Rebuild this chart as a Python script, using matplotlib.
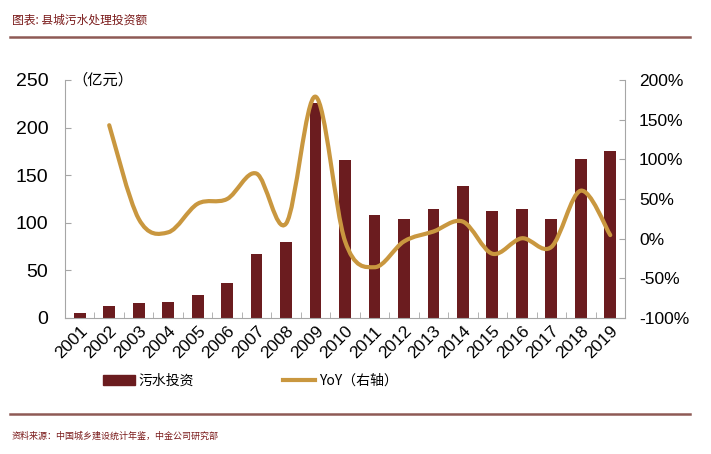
import matplotlib
matplotlib.use("Agg")
import matplotlib.pyplot as plt
from matplotlib.path import Path
from matplotlib.patches import PathPatch
from matplotlib.lines import Line2D
from matplotlib.ticker import PercentFormatter, FixedLocator

plt.rcParams['font.family'] = ['Liberation Sans', 'Noto Sans CJK SC', 'DejaVu Sans']
plt.rcParams['axes.unicode_minus'] = False

years = [str(y) for y in range(2001, 2020)]
invest = [5.0, 12.2, 15.4, 16.8, 24.1, 36.7, 66.8, 80.1, 225.5, 165.7,
          108.4, 104.5, 114.7, 138.8, 112.9, 114.0, 103.8, 167.5, 175.9]
# YoY (%) starts in 2002
yoy_years = years[1:]
yoy = [143, 25, 8, 44, 50, 82, 19, 179, -3,
       -36, -3.5, 9, 21.5, -19, 0.5, -10.5, 60.5, 4.5]

bar_color = '#6B1C1F'
line_color = '#C9973F'
text_red = '#7A1A1A'
rule_color = '#8E5A55'
spine_color = '#A6A6A6'
cjk = ['Noto Sans CJK SC', 'DejaVu Sans']

fig = plt.figure(figsize=(7.11, 4.54), dpi=100)
ax = fig.add_axes([65 / 711, 136 / 454, 560 / 711, 238 / 454])

x = list(range(len(years)))
ax.bar(x, invest, width=0.4, color=bar_color, zorder=2)
ax.set_xlim(-0.5, len(years) - 0.5)
ax.set_ylim(0, 250)
ax.set_yticks([0, 50, 100, 150, 200, 250])
ax.set_xticks(x)
ax.set_xticklabels(years, rotation=45, ha='right', va='top', rotation_mode='anchor', fontsize=12.5)
ax.tick_params(axis='x', length=0, pad=4)
ax.xaxis.set_minor_locator(FixedLocator([i + 0.5 for i in x[:-1]]))
ax.tick_params(axis='x', which='minor', direction='in', length=4, color=spine_color)
ax.tick_params(axis='y', direction='in', length=4, color=spine_color, labelsize=14, pad=12)
for s in ['top', 'right']:
    ax.spines[s].set_visible(False)
for s in ['left', 'bottom']:
    ax.spines[s].set_color(spine_color)
ax.text(-0.25, 250, '（亿元）', fontsize=11, va='center', ha='left', family=cjk)

ax2 = ax.twinx()
ax2.set_ylim(-100, 200)
ax2.set_yticks([-100, -50, 0, 50, 100, 150, 200])
ax2.yaxis.set_major_formatter(PercentFormatter(decimals=0))
ax2.tick_params(axis='y', direction='in', length=4, color=spine_color, labelsize=12.5, pad=10)
for s in ['top', 'left', 'bottom']:
    ax2.spines[s].set_visible(False)
ax2.spines['right'].set_color(spine_color)

# smoothed line through the YoY points (Catmull-Rom as cubic Bezier)
px = [years.index(y) for y in yoy_years]
pts = list(zip(px, yoy))
verts = [pts[0]]
codes = [Path.MOVETO]
n = len(pts)
for i in range(n - 1):
    p0 = pts[i - 1] if i > 0 else pts[i]
    p1 = pts[i]
    p2 = pts[i + 1]
    p3 = pts[i + 2] if i + 2 < n else pts[i + 1]
    c1 = (p1[0] + (p2[0] - p0[0]) / 6, p1[1] + (p2[1] - p0[1]) / 6)
    c2 = (p2[0] - (p3[0] - p1[0]) / 6, p2[1] - (p3[1] - p1[1]) / 6)
    verts += [c1, c2, p2]
    codes += [Path.CURVE4] * 3
ax2.add_patch(PathPatch(Path(verts, codes), fill=False, edgecolor=line_color,
                        lw=3, capstyle='round', joinstyle='round', zorder=3))

# legend
handles = [plt.Rectangle((0, 0), 1, 1, color=bar_color),
           Line2D([0], [0], color=line_color, lw=3)]
fig.legend(handles, ['污水投资', 'YoY（右轴）'], loc='center', ncol=2,
           bbox_to_anchor=(0.352, 1 - 381 / 454), frameon=False,
           prop={'family': cjk, 'size': 10},
           handlelength=2.3, handleheight=0.75, handletextpad=0.3, columnspacing=6.4)

# header and footer
fig.text(12 / 711, 1 - 20 / 454, '图表: 县城污水处理投资额', fontsize=8.5,
         color=text_red, va='center', ha='left', family=cjk)
fig.add_artist(Line2D([10 / 711, 690 / 711], [1 - 37 / 454] * 2, color=rule_color, lw=1.8))
fig.add_artist(Line2D([10 / 711, 690 / 711], [1 - 414 / 454] * 2, color=rule_color, lw=1.8))
fig.text(12 / 711, 1 - 436 / 454, '资料来源：中国城乡建设统计年鉴，中金公司研究部', fontsize=6.5,
         color=text_red, va='center', ha='left', family=cjk)

fig.savefig('out.png', dpi=100)
